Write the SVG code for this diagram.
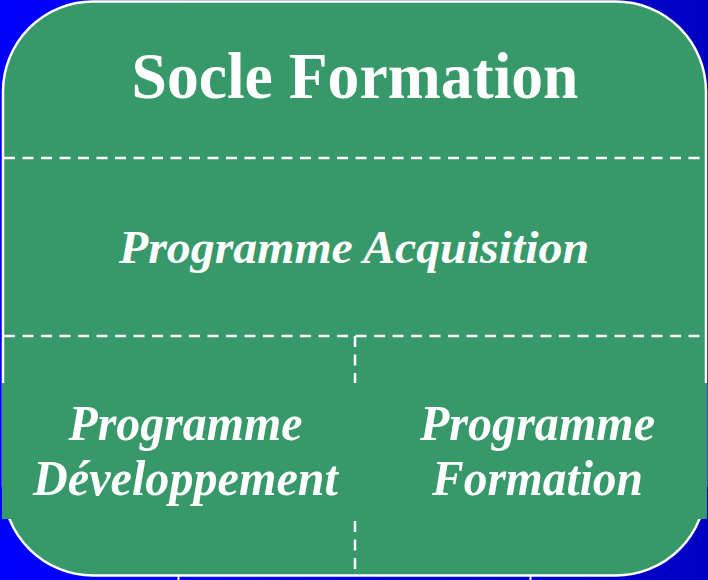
<svg xmlns="http://www.w3.org/2000/svg" width="708" height="580" viewBox="0 0 708 580">
  <defs>
    <linearGradient id="bg" x1="0" y1="0" x2="1" y2="0">
      <stop offset="0" stop-color="#0000FF"/>
      <stop offset="1" stop-color="#0000C4"/>
    </linearGradient>
    <style>
      .t { fill: #FFFFFF; font-family: "Liberation Serif", "Times New Roman", serif; font-weight: bold; text-anchor: middle; }
      .it { font-style: italic; }
      .dash { stroke: #FFFFFF; stroke-width: 2.5; stroke-dasharray: 11 7.5; fill: none; }
    </style>
  </defs>
  <rect x="0" y="0" width="708" height="580" fill="url(#bg)"/>
  <line x1="178.5" y1="576" x2="178.5" y2="580" stroke="#FFFFFF" stroke-width="2"/>
  <line x1="530.5" y1="576" x2="530.5" y2="580" stroke="#FFFFFF" stroke-width="2"/>
  <g id="frame">
    <rect x="3" y="1.5" width="703" height="574" rx="90" ry="90" fill="#37996A" stroke="#FFFFFF" stroke-width="2.5"/>
  </g>
  <g id="connectors">
    <line class="dash" x1="4" y1="158" x2="706" y2="158"/>
    <line class="dash" x1="4" y1="336" x2="706" y2="336"/>
    <line class="dash" x1="355" y1="336" x2="355" y2="575"/>
  </g>
  <rect x="2" y="383" width="705" height="136" fill="#37996A"/>
  <g id="socle-formation">
    <text class="t" x="355" y="98" font-size="66" textLength="447" lengthAdjust="spacingAndGlyphs">Socle Formation</text>
  </g>
  <g id="programme-acquisition">
    <text class="t it" x="354" y="263" font-size="47" textLength="470" lengthAdjust="spacingAndGlyphs">Programme Acquisition</text>
  </g>
  <g id="programme-developpement">
    <text class="t it" x="185.5" y="440" font-size="51" textLength="234" lengthAdjust="spacingAndGlyphs">Programme</text>
    <text class="t it" x="185.5" y="495" font-size="51" textLength="305" lengthAdjust="spacingAndGlyphs">Développement</text>
  </g>
  <g id="programme-formation">
    <text class="t it" x="537.5" y="440" font-size="51" textLength="235" lengthAdjust="spacingAndGlyphs">Programme</text>
    <text class="t it" x="537.5" y="495" font-size="51" textLength="211" lengthAdjust="spacingAndGlyphs">Formation</text>
  </g>
</svg>
